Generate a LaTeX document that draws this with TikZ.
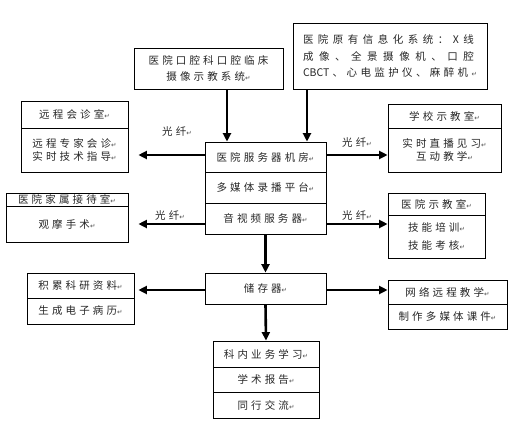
\documentclass[tikz,border=0pt]{standalone}
\usepackage{fontspec}
\setmainfont{Noto Sans CJK SC}[LetterSpace=30]
\newfontfamily\dejavu{DejaVu Sans}
\newfontfamily\plainlat{Noto Sans CJK SC}
\usetikzlibrary{arrows.meta,calc}
\newcommand\ret{{\dejavu\fontsize{6.5}{7}\selectfont\color{black!70}↵}}
\def\spreadloop#1{\ifx\relax#1\else#1\hfil\expandafter\spreadloop\fi}
\newcommand\spreadline[2]{\makebox[#1][s]{\spreadloop#2\relax\unskip}}
\begin{document}
\begin{tikzpicture}[x=1pt,y=-1pt,
  cell/.style={draw, line width=0.8pt, inner sep=0pt, align=center,
    text=black!85, font=\fontsize{10.5}{14}\selectfont},
  lbl/.style={inner sep=0pt, text=black!85, font=\fontsize{10.5}{14}\selectfont},
  arr/.style={line width=2.6pt, -{Triangle[length=8.5pt,width=8pt]}}]
\useasboundingbox (0,0) rectangle (515,432);
% top boxes
\node[cell, minimum width=149pt, minimum height=41pt, font=\fontsize{10.5}{16}\selectfont] (A) at (208.5,68.5)
  {医院口腔科口腔临床\\摄像示教系统\ret};
\node[cell, minimum width=194pt, minimum height=66pt, align=left, font=\fontsize{10.5}{16.5}\selectfont] (B) at (390,56)
  {\spreadline{171pt}{医院原有信息化系统：X线}\\
   \spreadline{171pt}{成像、全景摄像机、口腔}\\
   \spreadline{174pt}{{\plainlat CBCT}、心电监护仪、麻醉机\ret}};
% center stack
\node[cell, minimum width=121pt, minimum height=30pt] (C1) at (265.5,157) {医院服务器机房\ret};
\node[cell, minimum width=121pt, minimum height=31pt] (C2) at (265.5,187.5) {多媒体录播平台\ret};
\node[cell, minimum width=121pt, minimum height=31pt] (C3) at (265.5,218.5) {音视频服务器\ret};
% left boxes
\node[cell, minimum width=107pt, minimum height=27pt] (L1a) at (74.5,114.5) {远程会诊室\ret};
\node[cell, minimum width=107pt, minimum height=44pt, font=\fontsize{10.5}{13}\selectfont] (L1b) at (74.5,150)
  {远程专家会诊\ret\\实时技术指导\ret};
\node[cell, minimum width=122pt, minimum height=13pt] (L2a) at (67,199.5) {医院家属接待室\ret};
\node[cell, minimum width=122pt, minimum height=36pt] (L2b) at (67,224) {观摩手术\ret};
\node[cell, minimum width=107pt, minimum height=25pt] (L3a) at (80.5,285.5) {积累科研资料\ret};
\node[cell, minimum width=107pt, minimum height=26pt] (L3b) at (80.5,311) {生成电子病历\ret};
% right boxes
\node[cell, minimum width=113pt, minimum height=24pt] (R1a) at (444.5,116) {学校示教室\ret};
\node[cell, minimum width=113pt, minimum height=44pt, font=\fontsize{10.5}{13}\selectfont] (R1b) at (444.5,150)
  {实时直播见习\ret\\互动教学\ret};
\node[cell, minimum width=97pt, minimum height=22pt] (R2a) at (436.5,204) {医院示教室\ret};
\node[cell, minimum width=97pt, minimum height=43pt, font=\fontsize{10.5}{18}\selectfont] (R2b) at (436.5,236.5)
  {技能培训\ret\\技能考核\ret};
\node[cell, minimum width=119pt, minimum height=24pt] (R3a) at (447.5,292) {网络远程教学\ret};
\node[cell, minimum width=119pt, minimum height=25pt] (R3b) at (447.5,316.5) {制作多媒体课件\ret};
% storage and bottom
\node[cell, minimum width=121pt, minimum height=31pt] (S) at (265.5,288.5) {储存器\ret};
\node[cell, minimum width=106pt, minimum height=26pt] (D1) at (266,354) {科内业务学习\ret};
\node[cell, minimum width=106pt, minimum height=25pt] (D2) at (266,379.5) {学术报告\ret};
\node[cell, minimum width=106pt, minimum height=26pt] (D3) at (266,405) {同行交流\ret};
% labels
\node[lbl] (f1) at (177,132) {光纤\ret};
\node[lbl] (f2) at (170,216) {光纤\ret};
\node[lbl] (f3) at (357,143) {光纤\ret};
\node[lbl] (f4) at (357,216) {光纤\ret};
% connectors
\coordinate (xa) at (227,0);
\coordinate (xb) at (307,0);
\draw[arr] (A.south -| xa) -- (C1.north -| xa);
\draw[arr] (B.south -| xb) -- (C1.north -| xb);
\draw[arr] ([yshift=2pt]C1.west) -- ($([yshift=2pt]C1.west -| L1b.east)+(10,0)$);
\draw[arr] ([yshift=-5.5pt]C3.west) -- ($([yshift=-5.5pt]C3.west -| L2b.east)+(10,0)$);
\draw[arr] ([yshift=2pt]C1.east) -- ([yshift=2pt]C1.east -| R1b.west);
\draw[arr] ([yshift=-5.5pt]C3.east) -- ([yshift=-5.5pt]C3.east -| R2b.west);
\draw[arr] (C3.south) -- (S.north);
\draw[arr] ([yshift=-1.5pt]S.west) -- ($([yshift=-1.5pt]S.west -| L3a.east)+(4,0)$);
\draw[arr] ([yshift=-1.5pt]S.east) -- ([yshift=-1.5pt]S.east -| R3a.west);
\draw[arr] (S.south) -- (D1.north);
\end{tikzpicture}
\end{document}
